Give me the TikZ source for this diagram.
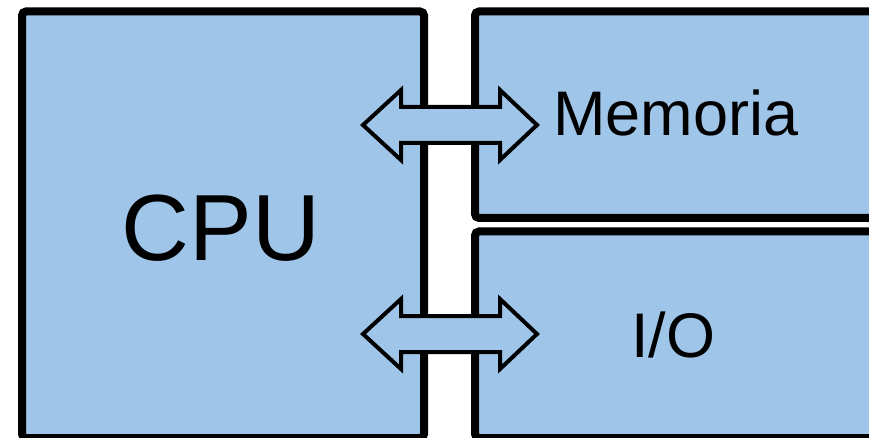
\documentclass[tikz,border=0pt]{standalone}
\usepackage{fontspec}
\setmainfont{Liberation Sans}
\definecolor{boxblue}{HTML}{9FC5E8}
\begin{document}
\begin{tikzpicture}[x=1pt,y=-1pt,
  unit/.style={draw=black,fill=boxblue,line width=8pt,rounded corners=4pt},
  busarrow/.style={draw=black,fill=boxblue,line width=4pt,line join=miter},
  label/.style={anchor=base,inner sep=0pt,text=black}]
\useasboundingbox (0,0) rectangle (869,438);
\clip (0,0) rectangle (869,438);
% functional blocks
\path[unit] (22,11.5) rectangle (424,438);
\path[unit] (475,11.5) rectangle (920,218);
\path[unit] (475,231.5) rectangle (920,438);
% bus connections between CPU and the other blocks
\foreach \yc in {125,334}{
  \path[busarrow] (363,\yc) -- (401,\yc-35) -- (401,\yc-18) -- (500,\yc-18)
    -- (500,\yc-35) -- (537,\yc) -- (500,\yc+35) -- (500,\yc+18)
    -- (401,\yc+18) -- (401,\yc+35) -- cycle;
}
% labels
\node[label,font=\fontsize{94}{94}\selectfont] (cpu) at (221,260) {CPU};
\node[label,font=\fontsize{63}{63}\selectfont] (mem) at (676,136) {Memoria};
\node[label,font=\fontsize{63}{63}\selectfont] (io) at (673,357) {I/O};
\end{tikzpicture}
\end{document}
